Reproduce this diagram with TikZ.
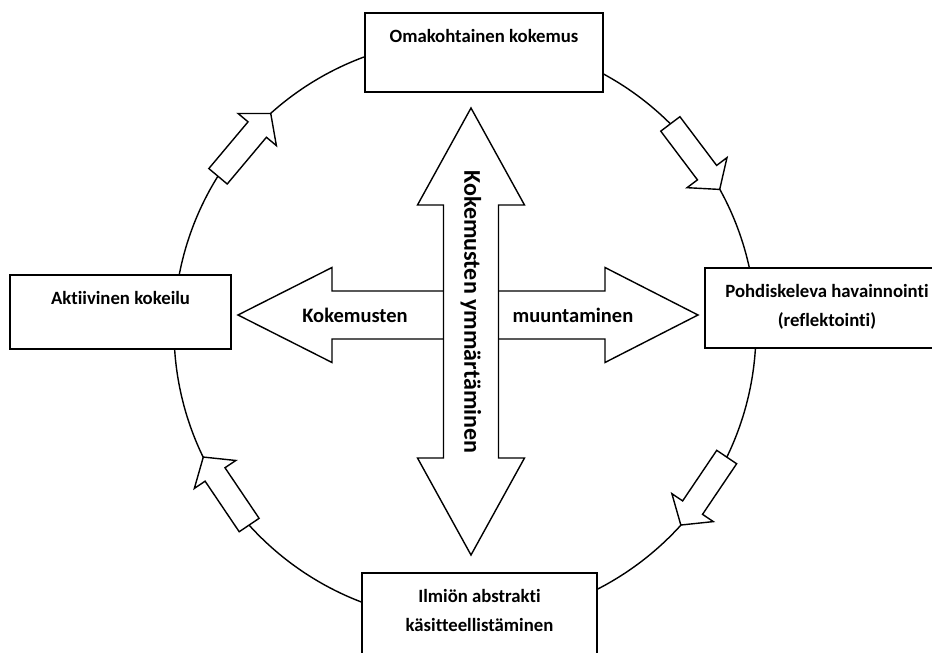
\documentclass[tikz,border=0pt]{standalone}
\usepackage{fontspec}
\setmainfont{Carlito}[RawFeature={-liga,-clig}]
\usetikzlibrary{positioning}
\tikzset{
  laatikko/.style={draw, line width=2pt, fill=white, inner sep=0pt},
  teksti/.style={font=\bfseries\fontsize{16}{25}\selectfont, align=center, inner sep=0pt},
  nuoliteksti/.style={font=\bfseries\fontsize{17.5}{21}\selectfont, inner sep=0pt},
  isonuoli/.style={draw, line width=1.2pt, fill=white, line join=miter},
  pikkunuoli/.style={draw, line width=1.2pt, fill=white},
}
\begin{document}
\begin{tikzpicture}[x=0.3mm,y=0.3mm]
\useasboundingbox (-465,-323) rectangle (467,330);
% Kehä
\draw[line width=1.2pt] (0,0) circle [radius=291];
% Pienet nuolet kehällä
\foreach \a in {140,37,-34,-146}
  \draw[pikkunuoli, shift={(\a:288)}, rotate=\a-90]
    (-41,-12) -- (20,-12) -- (20,-25) -- (41,0) -- (20,25) -- (20,12) -- (-41,12) -- cycle;
% Laatikot
\node[laatikko, minimum width=71.4mm, minimum height=23.7mm] (oma) at (19,277.5) {};
\node[laatikko, minimum width=66.3mm, minimum height=22.2mm] (akt) at (-344.5,18) {};
\node[laatikko, minimum width=73.2mm, minimum height=24mm] (pohd) at (362,22) {};
\node[laatikko, minimum width=70.5mm, minimum height=27.6mm] (ilm) at (14.5,-289) {};
\node[teksti, below=5.1mm of oma.north] (omat) {Omakohtainen kokemus};
\node[teksti, below=5.1mm of akt.north] (aktt) {Aktiivinen kokeilu};
\node[teksti, below=5.1mm of pohd.north] (pohdt) {Pohdiskeleva havainnointi\\(reflektointi)};
\node[teksti, below=5.1mm of ilm.north] (ilmt) {Ilmiön abstrakti\\käsitteellistäminen};
% Vaakanuoli
\draw[isonuoli] (-227,15) -- (-133,62.5) -- (-133,39) -- (140,39) -- (140,62.5) -- (233,15)
  -- (140,-32.5) -- (140,-9) -- (-133,-9) -- (-133,-32.5) -- cycle;
% Pystynuoli
\draw[isonuoli] (6,222) -- (59.5,125) -- (33.5,125) -- (33.5,-128) -- (59.5,-128) -- (6,-225)
  -- (-47.5,-128) -- (-21.5,-128) -- (-21.5,125) -- (-47.5,125) -- cycle;
\node[nuoliteksti] (koke) at (-110,15) {Kokemusten};
\node[nuoliteksti] (muun) at (108,15) {muuntaminen};
\node[nuoliteksti, font=\bfseries\fontsize{20.5}{24}\selectfont, rotate=-90] (ymm) at (6,18) {Kokemusten ymmärtäminen};
\end{tikzpicture}
\end{document}
